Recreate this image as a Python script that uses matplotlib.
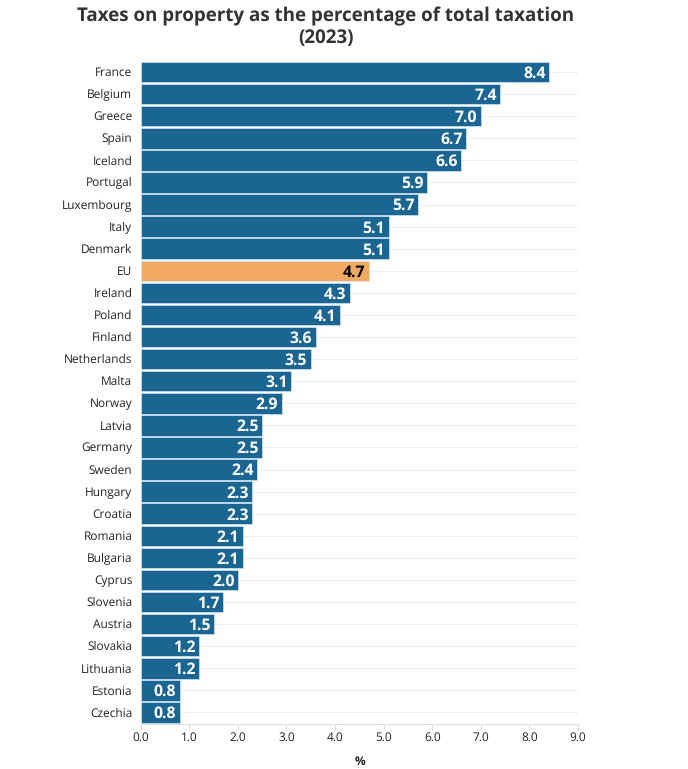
#!/usr/bin/env python3

import matplotlib
matplotlib.use('Agg')
import matplotlib.pyplot as plt
from matplotlib.transforms import ScaledTranslation

countries = ['France', 'Belgium', 'Greece', 'Spain', 'Iceland', 'Portugal', 'Luxembourg', 'Italy',
             'Denmark', 'EU', 'Ireland', 'Poland', 'Finland', 'Netherlands', 'Malta', 'Norway',
             'Latvia', 'Germany', 'Sweden', 'Hungary', 'Croatia', 'Romania', 'Bulgaria', 'Cyprus',
             'Slovenia', 'Austria', 'Slovakia', 'Lithuania', 'Estonia', 'Czechia']
values = [8.4, 7.4, 7.0, 6.7, 6.6, 5.9, 5.7, 5.1, 5.1, 4.7, 4.3, 4.1, 3.6, 3.5, 3.1, 2.9, 2.5, 2.5,
          2.4, 2.3, 2.3, 2.1, 2.1, 2.0, 1.7, 1.5, 1.2, 1.2, 0.8, 0.8]
xticks = [0, 1, 2, 3, 4, 5, 6, 7, 8, 9]

plt.rcParams['font.family'] = ['Open Sans', 'DejaVu Sans']
plt.rcParams['text.hinting'] = 'no_hinting'
W, H = 688, 769
fig = plt.figure(dpi=100, figsize=(W / 100, H / 100))
ax = fig.add_axes([140.7 / W, 1 - 723.5 / H, (578 - 140.7) / W, (723.5 - 61) / H])

colors = ['#f0a963' if c == 'EU' else '#1a6591' for c in countries]
ypos = list(range(len(countries)))
ax.hlines(ypos, 0, 9, color='#eeeeee', linewidth=0.8, zorder=1)
ax.barh(ypos, values, height=0.93, color=colors, edgecolor='#cfe6f3', linewidth=0.5, zorder=2)

for y, c, v in zip(ypos, countries, values):
    ax.text(v - 0.07, y + 0.07, '%.1f' % v, ha='right', va='center', fontsize=11.3, fontweight='bold',
            color='black' if c == 'EU' else 'white', zorder=3)

ax.set_xlim(0, 9)
ax.set_ylim(len(countries) - 0.5, -0.5)
ax.set_yticks(ypos)
ax.set_yticklabels(countries, fontsize=8.6, color='#222222', va='center')
ax.set_xticks(xticks)
ax.set_xticklabels(['%.1f' % t for t in xticks], fontsize=8.6, color='#222222')
ax.tick_params(axis='y', length=0, pad=6)
ax.tick_params(axis='x', length=4, width=0.8, color='#dddddd', pad=2)
shift = ScaledTranslation(0, -1 / 100, fig.dpi_scale_trans)
for lab in ax.get_yticklabels():
    lab.set_transform(lab.get_transform() + shift)
for s in ['top', 'right', 'left']:
    ax.spines[s].set_visible(False)
ax.spines['bottom'].set_color('#dddddd')
ax.spines['bottom'].set_linewidth(0.8)

fig.text(326 / W, 1 - 16.5 / H, 'Taxes on property as the percentage of total taxation', ha='center', va='center',
         fontsize=13.5, fontweight='bold', color='#333333')
fig.text(326 / W, 1 - 38.5 / H, '(2023)', ha='center', va='center',
         fontsize=13.5, fontweight='bold', color='#333333')
fig.text(360 / W, 1 - 761.5 / H, '%', ha='center', va='center', fontsize=8.6, fontweight='bold', color='#222222')

plt.savefig('out.png')
